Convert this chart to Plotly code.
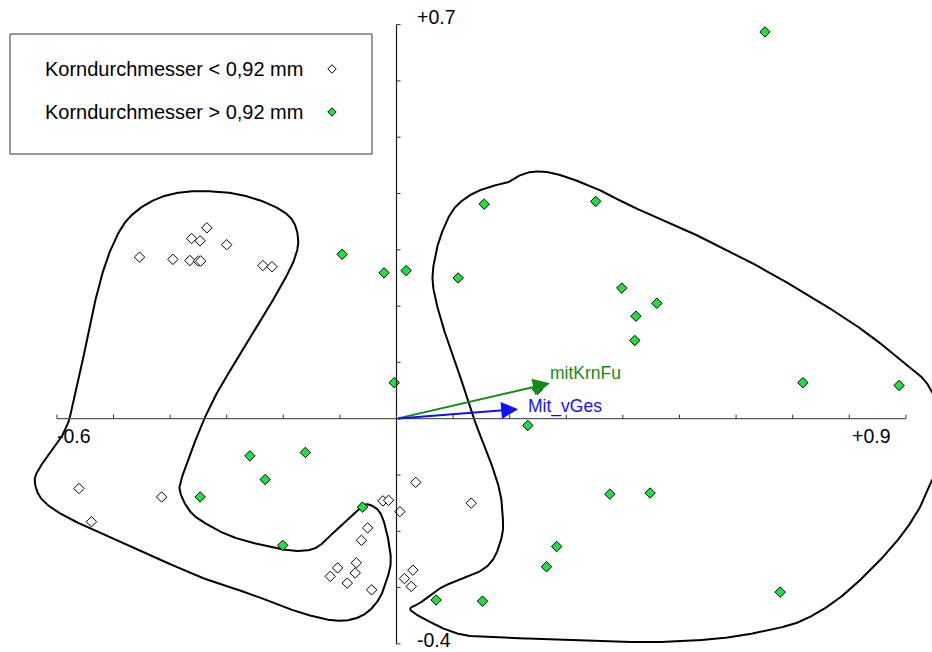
import numpy as np
import plotly.graph_objects as go

# ---------------------------------------------------------------- data
# Site scores, grain diameter < 0.92 mm (open diamonds)
small_x = [-0.454, -0.395, -0.365, -0.350, -0.346, -0.362, -0.347, -0.335, -0.300, -0.236, -0.220,
           -0.561, -0.539, -0.415, -0.024, -0.014, 0.006, 0.034, -0.051, -0.062, -0.071, -0.104,
           -0.117, -0.073, -0.087, -0.044, 0.029, 0.014, 0.026, 0.132]
small_y = [0.287, 0.283, 0.281, 0.280, 0.280, 0.320, 0.316, 0.339, 0.309, 0.272, 0.270,
           -0.124, -0.183, -0.139, -0.146, -0.145, -0.165, -0.113, -0.194, -0.216, -0.256, -0.265,
           -0.280, -0.274, -0.292, -0.304, -0.269, -0.284, -0.298, -0.150]

# Site scores, grain diameter > 0.92 mm (green diamonds)
large_x = [0.651, 0.155, 0.352, -0.096, -0.022, 0.017, 0.109, 0.398, 0.423, 0.460, 0.421,
           -0.004, 0.718, 0.888, 0.249, 0.232, -0.259, -0.161, -0.232, -0.347, -0.201, -0.060,
           0.377, 0.448, 0.283, 0.265, 0.070, 0.152, 0.678]
large_y = [0.687, 0.381, 0.386, 0.292, 0.259, 0.263, 0.250, 0.232, 0.182, 0.205, 0.139,
           0.064, 0.064, 0.059, 0.052, -0.012, -0.066, -0.060, -0.108, -0.139, -0.225, -0.157,
           -0.134, -0.132, -0.227, -0.263, -0.322, -0.324, -0.308]

# Environmental variables (biplot arrows)
env_names = ["mitKrnFu", "Mit_vGes"]
env_x = [0.271, 0.215]
env_y = [0.063, 0.017]

# Group outlines (closed, smoothed below)
hull_small_x = [-0.573, -0.559, -0.541, -0.523, -0.503, -0.476, -0.435, -0.388, -0.335, -0.282,
                -0.229, -0.188, -0.174, -0.179, -0.201, -0.236, -0.271, -0.307, -0.335, -0.360,
                -0.379, -0.383, -0.370, -0.347, -0.289, -0.211, -0.170, -0.140, -0.112, -0.082,
                -0.061, -0.047, -0.029, -0.017, -0.010, -0.017, -0.029, -0.047, -0.070, -0.100,
                -0.135, -0.183, -0.259, -0.347, -0.494, -0.582, -0.625, -0.639, -0.633, -0.612,
                -0.595, -0.580]
hull_small_y = [0.021, 0.081, 0.170, 0.246, 0.305, 0.353, 0.385, 0.401, 0.404, 0.399,
                0.383, 0.358, 0.323, 0.287, 0.241, 0.181, 0.122, 0.064, 0.010, -0.051,
                -0.104, -0.127, -0.157, -0.180, -0.210, -0.230, -0.235, -0.228, -0.203, -0.175,
                -0.155, -0.153, -0.167, -0.203, -0.251, -0.286, -0.317, -0.340, -0.354, -0.359,
                -0.354, -0.340, -0.311, -0.281, -0.216, -0.175, -0.145, -0.114, -0.091, -0.061,
                -0.038, -0.007]

hull_large_x = [0.024, 0.042, 0.064, 0.089, 0.142, 0.170, 0.186, 0.188, 0.183, 0.165, 0.142,
                0.125, 0.100, 0.077, 0.064, 0.068, 0.080, 0.100, 0.130, 0.165, 0.195, 0.209,
                0.236, 0.266, 0.301, 0.359, 0.418, 0.501, 0.584, 0.642, 0.713, 0.778, 0.831,
                0.877, 0.913, 0.937, 0.960, 0.969, 0.960, 0.946, 0.925, 0.890, 0.837, 0.778,
                0.718, 0.660, 0.572, 0.453, 0.337, 0.218, 0.130, 0.089, 0.059, 0.042]
hull_large_y = [-0.338, -0.327, -0.310, -0.295, -0.274, -0.251, -0.210, -0.180, -0.131, -0.073, -0.015,
                0.039, 0.110, 0.181, 0.241, 0.287, 0.330, 0.371, 0.397, 0.412, 0.419, 0.428,
                0.438, 0.438, 0.429, 0.406, 0.376, 0.340, 0.299, 0.269, 0.228, 0.188, 0.152,
                0.116, 0.086, 0.063, 0.016, -0.038, -0.082, -0.109, -0.157, -0.210, -0.269, -0.322,
                -0.358, -0.375, -0.390, -0.397, -0.393, -0.390, -0.386, -0.375, -0.361, -0.352]

# Axis extents and ticks
x_ticks = [round(-0.6 + 0.1 * i, 1) for i in range(16)]
y_ticks = [round(-0.4 + 0.1 * i, 1) for i in range(12)]
x_tick_labels = {-0.6: "-0.6", 0.9: "+0.9"}
y_tick_labels = {0.7: "+0.7", -0.4: "-0.4"}

legend_labels = ["Korndurchmesser < 0,92 mm", "Korndurchmesser > 0,92 mm"]

# ---------------------------------------------------------------- layout constants
W, H = 932, 652
ORIGIN_PX = (396.5, 418.7)
SX, SY = 566.0, 563.0
x_range = [-ORIGIN_PX[0] / SX, (W - ORIGIN_PX[0]) / SX]
y_range = [-(H - ORIGIN_PX[1]) / SY, ORIGIN_PX[1] / SY]

FONT = "Arial, Liberation Sans, sans-serif"
GREEN_FILL = "#1fe040"


def px_to_data(px, py):
    return (px - ORIGIN_PX[0]) / SX, (ORIGIN_PX[1] - py) / SY


def closed_spline(xs, ys, n=24):
    """Periodic Catmull-Rom curve through the outline vertices."""
    P = np.column_stack([xs, ys])
    N = len(P)
    t = np.linspace(0, 1, n, endpoint=False)[:, None]
    parts = []
    for i in range(N):
        p0, p1, p2, p3 = P[(i - 1) % N], P[i], P[(i + 1) % N], P[(i + 2) % N]
        seg = 0.5 * (2 * p1 + (-p0 + p2) * t + (2 * p0 - 5 * p1 + 4 * p2 - p3) * t ** 2
                     + (-p0 + 3 * p1 - 3 * p2 + p3) * t ** 3)
        parts.append(seg)
    parts.append(P[:1])
    out = np.vstack(parts)
    return out[:, 0], out[:, 1]


fig = go.Figure()

# outlines
for hx, hy in [(hull_small_x, hull_small_y), (hull_large_x, hull_large_y)]:
    sx, sy = closed_spline(hx, hy)
    fig.add_trace(go.Scatter(x=sx, y=sy, mode="lines", line=dict(color="black", width=2),
                             hoverinfo="skip", showlegend=False))

# axis lines
fig.add_shape(type="line", x0=x_ticks[0], x1=x_ticks[-1], y0=0, y1=0,
              line=dict(color="#5a5a5a", width=1.2))
fig.add_shape(type="line", x0=0, x1=0, y0=y_ticks[0], y1=y_ticks[-1],
              line=dict(color="#1a1a1a", width=1.2))
for xt in x_ticks:
    fig.add_shape(type="line", xref="x", yref="y", ysizemode="pixel", yanchor=0,
                  x0=xt, x1=xt, y0=0, y1=4, line=dict(color="#333", width=1))
for yt in y_ticks:
    fig.add_shape(type="line", xref="x", yref="y", xsizemode="pixel", xanchor=0,
                  x0=0, x1=4, y0=yt, y1=yt, line=dict(color="#333", width=1))

# tick labels at the axis ends
for v, txt in x_tick_labels.items():
    left = v < 0
    fig.add_annotation(x=v, y=0, xref="x", yref="y", text=txt, showarrow=False,
                       xanchor="left" if left else "right", yanchor="middle",
                       xshift=-2 if left else -13, yshift=-17,
                       font=dict(family=FONT, size=19.5, color="black"))
for v, txt in y_tick_labels.items():
    fig.add_annotation(x=0, y=v, xref="x", yref="y", text=txt, showarrow=False,
                       xanchor="left", yanchor="middle", xshift=18,
                       yshift=8 if v > 0 else 4,
                       font=dict(family=FONT, size=19.5, color="black"))

# biplot arrows
arrow_colors = ["#138a13", "#1010ff"]
label_offsets = [(-2, 10), (8, 3)]
for name, ex, ey, col, (dx, dy) in zip(env_names, env_x, env_y, arrow_colors, label_offsets):
    fig.add_annotation(x=ex, y=ey, ax=0, ay=0, xref="x", yref="y", axref="x", ayref="y",
                       text="", showarrow=True, arrowhead=2, arrowsize=1.7, arrowwidth=2,
                       arrowcolor=col, standoff=0, startstandoff=0)
    fig.add_annotation(x=ex, y=ey, xref="x", yref="y", text=name, showarrow=False,
                       xanchor="left", yanchor="middle", xshift=dx, yshift=dy,
                       font=dict(family=FONT, size=17.5, color=col))

# site points
fig.add_trace(go.Scatter(x=small_x, y=small_y, mode="markers", showlegend=False,
                         marker=dict(symbol="diamond", size=8, color="white",
                                     line=dict(color="black", width=1))))
fig.add_trace(go.Scatter(x=large_x, y=large_y, mode="markers", showlegend=False,
                         marker=dict(symbol="diamond", size=8, color=GREEN_FILL,
                                     line=dict(color="black", width=1))))

# legend box
fig.add_shape(type="rect", xref="paper", yref="paper",
              x0=10 / W, x1=372 / W, y0=1 - 154 / H, y1=1 - 34 / H,
              line=dict(color="#333", width=1), fillcolor="white", layer="below")
legend_rows_py = [69, 112]
legend_fills = ["white", GREEN_FILL]
for lab, py, fill in zip(legend_labels, legend_rows_py, legend_fills):
    fig.add_annotation(x=43 / W, y=1 - py / H, xref="paper", yref="paper", text=lab,
                       showarrow=False, xanchor="left", yanchor="middle",
                       font=dict(family=FONT, size=20, color="black"))
    kx, ky = px_to_data(332, py)
    fig.add_trace(go.Scatter(x=[kx], y=[ky], mode="markers", showlegend=False,
                             marker=dict(symbol="diamond", size=6.5, color=fill,
                                         line=dict(color="black", width=1))))

fig.update_layout(
    width=W, height=H, margin=dict(l=0, r=0, t=0, b=0),
    paper_bgcolor="white", plot_bgcolor="white",
    xaxis=dict(range=x_range, visible=False, fixedrange=True),
    yaxis=dict(range=y_range, visible=False, fixedrange=True),
    showlegend=False,
)

fig.write_html("out.html")
